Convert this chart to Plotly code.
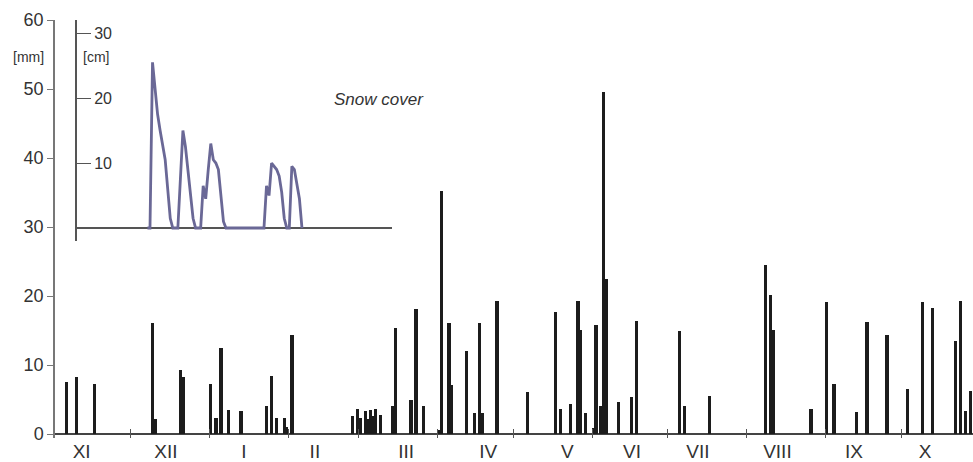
import plotly.graph_objects as go
from itertools import accumulate

# ---------------- data ----------------
month_names = ["XI", "XII", "I", "II", "III", "IV", "V", "VI", "VII", "VIII", "IX", "X"]
month_lengths = [30, 31, 31, 28, 31, 30, 31, 30, 31, 31, 30, 31]
# where the month names sit (day of the hydrological year, from 1 Nov)
month_label_days = [10.5, 43.8, 74.6, 102.6, 138.6, 171.0, 202.3, 227.8, 253.8, 285.2, 315.4, 343.5]
mm_ticks = [0, 10, 20, 30, 40, 50, 60]
cm_ticks = [10, 20, 30]

# daily precipitation [mm]; day 1 = 1 November
precip_days = [5, 9, 16,
               39, 40, 50, 51,
               62, 64, 66, 69, 74,
               84, 86, 88, 91, 92, 94,
               118, 120, 121, 123, 124, 125, 126, 127, 129,
               134, 135, 141, 143, 146, 152, 153, 156, 157,
               163, 166, 168, 169, 175, 187,
               198, 200, 204, 207, 208, 210,
               213, 214, 216, 217, 218, 223, 228, 230,
               247, 249, 259,
               281, 283, 284,
               299, 305, 308, 317, 321, 329,
               337, 343, 347, 356, 358, 360, 362]
precip_mm = [7.6, 8.2, 7.3,
             16.1, 2.2, 9.3, 8.2,
             7.3, 2.3, 12.4, 3.5, 3.4,
             4.1, 8.4, 2.3, 2.3, 1.0, 14.3,
             2.6, 3.6, 2.3, 3.4, 2.2, 3.5, 2.6, 3.7, 2.8,
             4.0, 15.3, 5.0, 18.1, 4.0, 0.6, 35.2, 16.1, 7.1,
             12.1, 3.1, 16.1, 3.1, 19.3, 6.1,
             17.7, 3.6, 4.4, 19.3, 15.1, 3.1,
             0.9, 15.8, 4.1, 49.5, 22.5, 4.6, 5.3, 16.4,
             14.9, 4.0, 5.5,
             24.5, 20.1, 15.1,
             3.6, 19.2, 7.2, 3.2, 16.2, 14.3,
             6.5, 19.2, 18.3, 13.5, 19.3, 3.3, 6.3]

# daily snow cover depth [cm]
snow_days = [37, 38, 39, 40, 41, 42, 43, 44, 45, 46, 47, 48, 49,
             50, 51, 52, 53, 54, 55, 56, 57, 58, 59, 60, 61, 62, 63, 64, 65, 66, 67, 68,
             83, 84, 85, 86, 87, 88, 89, 90, 91, 92, 93, 94, 95, 96, 97, 98]
snow_cm = [0, 0, 25.5, 21, 17.5, 15, 13, 10.5, 6, 1.5, 0, 0, 0,
           7.5, 15, 12.5, 9, 5, 1.5, 0, 0, 0, 6.5, 4.5, 9, 13, 10.5, 10, 9, 5.5, 1, 0,
           0, 6.5, 5, 10, 9.5, 9, 8, 5.5, 1.5, 0, 0, 9.5, 9, 7, 4.5, 0]

# ---------------- derived ----------------
month_bounds = list(accumulate(month_lengths))[:-1]
bar_x = [d - 0.5 for d in precip_days]
snow_x = [d - 0.5 for d in snow_days]

W, H = 973, 462
L, R, T, B = 55, 0, 20, 20
plot_w = W - L - R
plot_h = H - T - B
px_per_day = 2.533
x_range = [0, plot_w / px_per_day]

FONT = "Arial, 'Liberation Sans', Helvetica, sans-serif"
INK = "#333333"

fig = go.Figure()

fig.add_trace(go.Bar(
    x=bar_x, y=precip_mm, width=1.35,
    marker=dict(color="#1c1c1c", line=dict(width=0)),
    xaxis="x", yaxis="y", showlegend=False,
))

fig.add_trace(go.Scatter(
    x=snow_x, y=snow_cm, mode="lines",
    line=dict(color="#6a6896", width=2.8),
    xaxis="x2", yaxis="y2", showlegend=False,
))

# inset geometry (pixels -> fractions of the plot area)
inset_left_px, inset_right_px = 76, 392
inset_top_px, inset_bottom_px, inset_base_px = 20, 243, 230
cm_px = 6.56
x2_dom = [(inset_left_px - L) / plot_w, (inset_right_px - L) / plot_w]
y2_dom = [(T + plot_h - inset_bottom_px) / plot_h, (T + plot_h - inset_top_px) / plot_h]
x2_range = [(inset_left_px - L) / px_per_day, (inset_right_px - L) / px_per_day]
y2_range = [-(inset_bottom_px - inset_base_px) / cm_px, (inset_base_px - inset_top_px) / cm_px]

mm_px = (438 - T) / 60.0
y_range = [-(T + plot_h - 438) / mm_px, 60]

fig.update_layout(
    width=W, height=H,
    margin=dict(l=L, r=R, t=T, b=B, pad=0),
    paper_bgcolor="white", plot_bgcolor="white",
    bargap=0,
    font=dict(family=FONT, color=INK),
    xaxis=dict(
        range=x_range, domain=[0, 1],
        showgrid=False, zeroline=False, showline=False,
        tickmode="array", tickvals=month_label_days, ticktext=month_names,
        ticks="", tickfont=dict(size=19, color=INK),
        minor=dict(tickmode="array", tickvals=month_bounds, ticks="inside",
                   ticklen=9, tickwidth=1.3, tickcolor="#555555", showgrid=False),
        fixedrange=True,
    ),
    yaxis=dict(
        range=y_range, domain=[0, 1],
        showgrid=False,
        zeroline=True, zerolinecolor="#444444", zerolinewidth=1.6,
        showline=True, linecolor="#777777", linewidth=1.5,
        tickmode="array", tickvals=mm_ticks,
        ticks="outside", ticklen=6, tickwidth=1.3, tickcolor="#777777",
        tickfont=dict(size=18, color=INK),
        fixedrange=True,
    ),
    # inner half of the crossing tick marks on the mm axis
    yaxis3=dict(
        range=y_range, domain=[0, 1], overlaying="y", anchor="x",
        showgrid=False, zeroline=False, showline=False,
        tickmode="array", tickvals=mm_ticks, showticklabels=False,
        ticks="inside", ticklen=6, tickwidth=1.3, tickcolor="#777777",
        fixedrange=True,
    ),
    xaxis2=dict(
        domain=x2_dom, range=x2_range, anchor="y2",
        visible=False, fixedrange=True,
    ),
    yaxis2=dict(
        domain=y2_dom, range=y2_range, anchor="free", position=x2_dom[0],
        side="right",
        showgrid=False,
        zeroline=True, zerolinecolor="#555555", zerolinewidth=2,
        showline=True, linecolor="#555555", linewidth=2,
        tickmode="array", tickvals=cm_ticks,
        ticks="outside", ticklen=14, tickwidth=1.3, tickcolor="#555555",
        tickfont=dict(size=16, color=INK),
        fixedrange=True,
    ),
)

def px_annotation(text, px_x, px_y, size, italic=False):
    return dict(
        text=f"<i>{text}</i>" if italic else text,
        x=(px_x - L) / plot_w, y=(T + plot_h - px_y) / plot_h,
        xref="paper", yref="paper", xanchor="center", yanchor="middle",
        showarrow=False, font=dict(size=size, color=INK),
    )

fig.update_layout(annotations=[
    px_annotation("[mm]", 28, 57, 14),
    px_annotation("[cm]", 96, 57, 14),
    px_annotation("Snow cover", 379, 100, 17, italic=True),
])

fig.write_html("out.html")
